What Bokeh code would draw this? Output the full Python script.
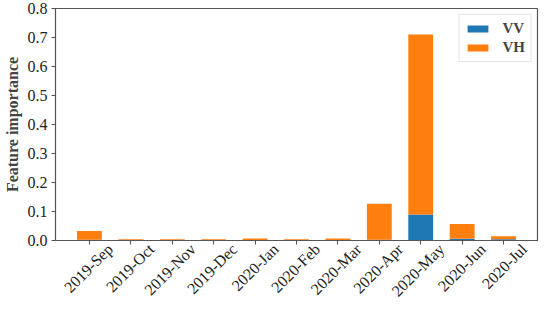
import math
from bokeh.plotting import figure
from bokeh.models import (ColumnDataSource, Range1d, FixedTicker, LinearAxis,
                          NumeralTickFormatter, Legend, LegendItem)
from bokeh.embed import file_html
from bokeh.resources import INLINE

months = ["2019-Sep", "2019-Oct", "2019-Nov", "2019-Dec", "2020-Jan", "2020-Feb",
          "2020-Mar", "2020-Apr", "2020-May", "2020-Jun", "2020-Jul"]
vv = [0.003, 0.001, 0.001, 0.001, 0.001, 0.001, 0.001, 0.003, 0.090, 0.006, 0.004]
vh = [0.030, 0.003, 0.003, 0.003, 0.006, 0.003, 0.006, 0.124, 0.620, 0.051, 0.011]
y_ticks = [0.0, 0.1, 0.2, 0.3, 0.4, 0.5, 0.6, 0.7, 0.8]

FONT = "Liberation Serif"
PAD = 0.32      # side padding beyond the outer bars' slots, in category widths
SHIFT = 0.5     # shift so each rotated label is centred under its tick

n = len(months)
idx = list(range(n))
src = ColumnDataSource(dict(x=idx, month=months, VV=vv, VH=vh))

p = figure(x_range=Range1d(-0.5 - PAD, n - 0.5 + PAD), y_range=Range1d(0, 0.8),
           width=540, height=308, output_backend="svg", toolbar_location=None,
           min_border_left=43, min_border_right=3, min_border_top=8, min_border_bottom=60)

r = p.vbar_stack(["VV", "VH"], x="x", width=0.6, source=src,
                 color=["#1f77b4", "#ff7f0e"], line_color=None)

p.grid.visible = False
p.outline_line_color = "#555555"
p.outline_line_width = 1.2

for ax in (p.xaxis[0], p.yaxis[0]):
    ax.axis_line_color = "#555555"
    ax.major_tick_line_color = "#555555"
    ax.major_tick_out = 4
    ax.major_tick_in = 0
    ax.minor_tick_line_color = None
    ax.major_label_text_font = FONT
    ax.major_label_text_font_size = "16px"
    ax.major_label_text_color = "#222222"

p.yaxis.ticker = FixedTicker(ticks=y_ticks)
p.yaxis.formatter = NumeralTickFormatter(format="0.0")
p.yaxis.major_label_standoff = 4
p.yaxis.axis_label = "Feature importance"
p.yaxis.axis_label_text_font = FONT
p.yaxis.axis_label_text_font_style = "bold"
p.yaxis.axis_label_text_font_size = "16px"
p.yaxis.axis_label_standoff = 4

# main x axis keeps only the tick marks at each month
p.xaxis[0].ticker = FixedTicker(ticks=idx)
p.xaxis[0].major_label_text_font_size = "1px"
p.xaxis[0].major_label_text_alpha = 0
p.xaxis[0].major_label_standoff = 0

# label axis: same scale, shifted so each rotated label is centred under its tick
p.extra_x_ranges = {"lab": Range1d(-0.5 - PAD - SHIFT, n - 0.5 + PAD - SHIFT)}
lab = LinearAxis(x_range_name="lab", ticker=FixedTicker(ticks=idx),
                 major_label_overrides={i: m for i, m in enumerate(months)})
lab.axis_line_color = None
lab.major_tick_line_color = None
lab.minor_tick_line_color = None
lab.major_tick_out = 0
lab.major_tick_in = 0
lab.major_label_standoff = 2
lab.major_label_orientation = math.pi / 4
lab.major_label_text_font = FONT
lab.major_label_text_font_size = "16px"
lab.major_label_text_color = "#222222"
p.add_layout(lab, "below")

legend = Legend(items=[LegendItem(label="VV", renderers=[r[0]]),
                       LegendItem(label="VH", renderers=[r[1]])],
                location="top_right")
legend.label_text_font = FONT
legend.label_text_font_style = "bold"
legend.label_text_font_size = "15px"
legend.glyph_width = 26
legend.glyph_height = 9
legend.label_standoff = 12
legend.border_line_color = "#cccccc"
legend.margin = 6
legend.padding = 5
legend.spacing = 2
p.add_layout(legend)

open("out.html", "w").write(file_html(p, INLINE))
